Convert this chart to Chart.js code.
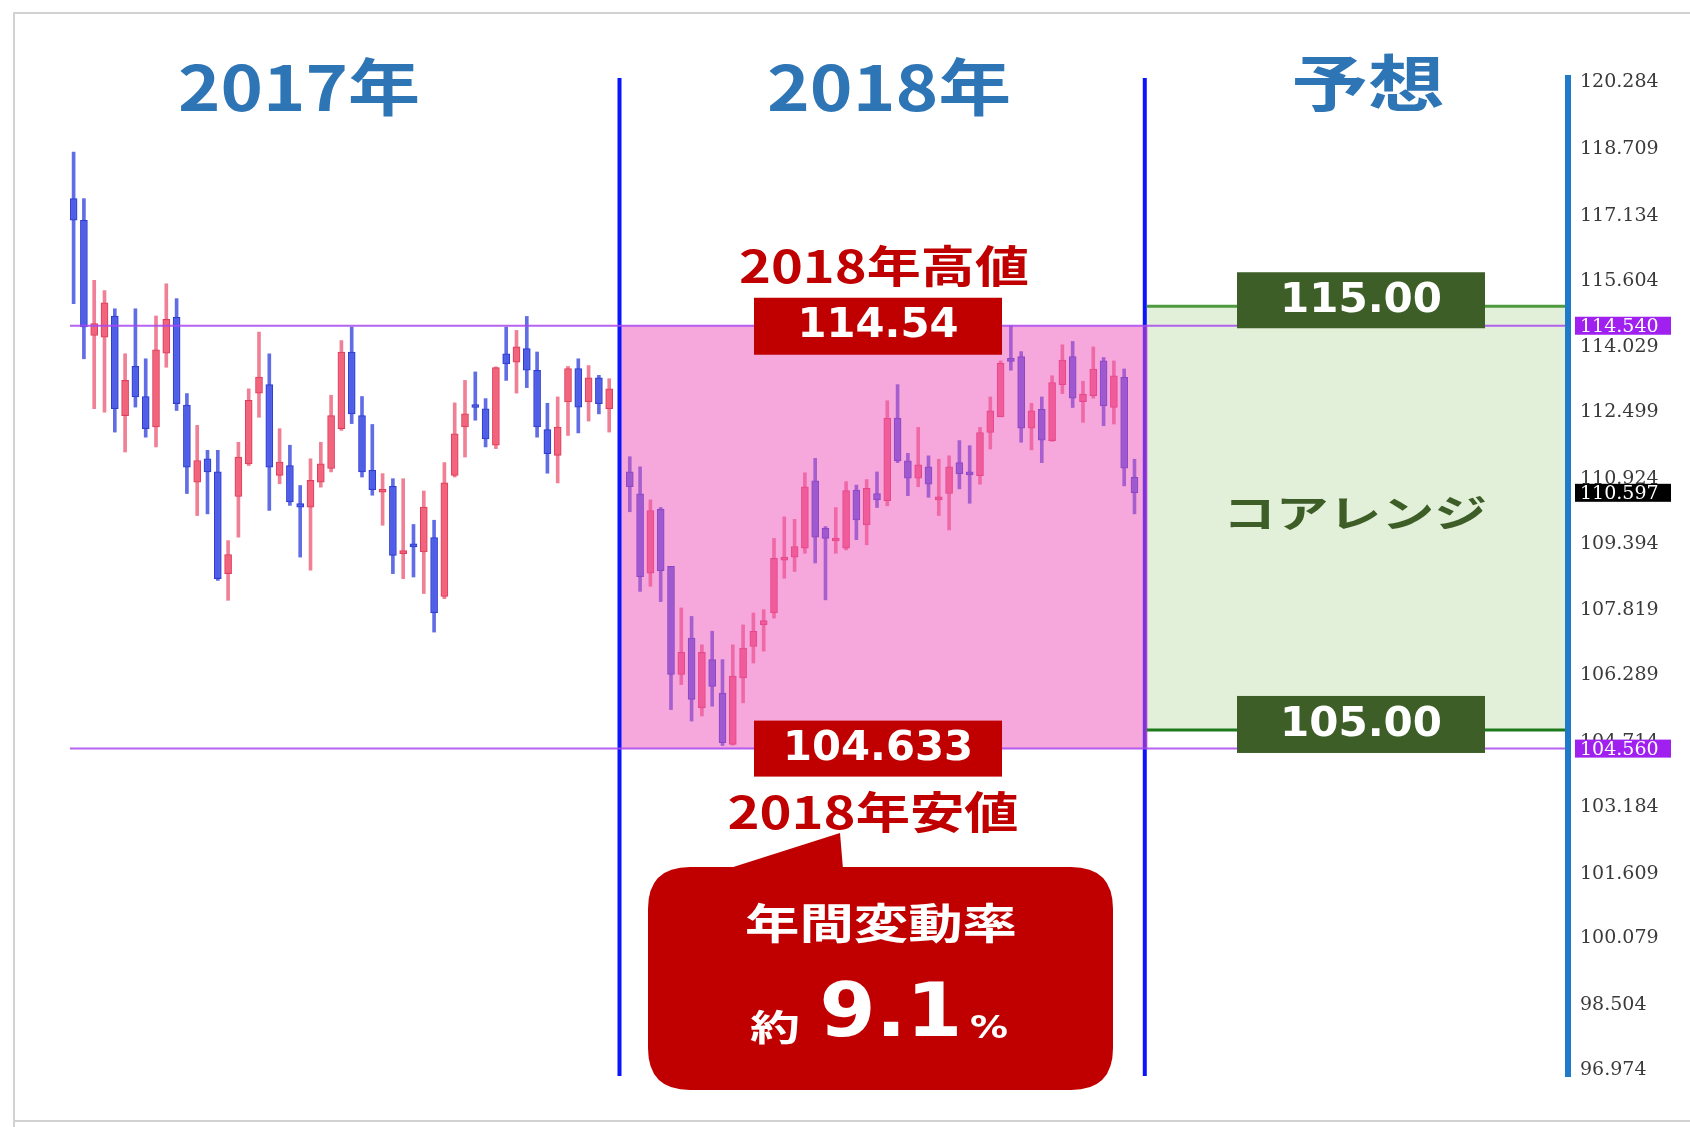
<!DOCTYPE html>
<html>
<head>
<meta charset="utf-8">
<script src="https://cdn.jsdelivr.net/npm/chart.js@4.4.0/dist/chart.umd.min.js"></script>
<style>
  html, body { margin: 0; padding: 0; background: #fff; }
  canvas { display: block; }
</style>
</head>
<body>
<canvas id="chart" width="1690" height="1127"></canvas>
<script>
// weekly candles, 2017
const open2017  = [117.54,117.03,114.31,114.27,114.77,112.42,113.58,112.87,112.15,113.89,114.74,112.67,110.85,111.40,111.09,108.69,110.51,111.28,112.95,113.15,111.01,111.24,110.34,110.26,110.85,111.17,112.11,113.92,112.42,111.13,110.61,110.75,109.16,109.36,109.20,109.54,108.15,111.01,112.15,112.64,112.58,111.72,113.88,113.68,114.00,113.49,112.09,111.48,112.74,113.53,112.74,113.31,112.58];
const high2017  = [118.64,117.54,115.61,115.37,114.94,113.88,114.94,113.76,114.77,115.53,115.18,112.94,112.19,111.60,111.60,109.47,111.79,113.05,114.39,113.88,112.11,111.72,110.77,111.40,111.79,112.90,114.19,114.51,112.87,112.21,111.05,110.93,110.93,109.85,110.64,109.95,111.31,112.72,113.25,113.45,112.82,113.57,114.51,114.43,114.76,113.92,112.71,112.86,113.58,113.76,113.60,113.37,113.29];
const low2017   = [115.06,113.76,112.58,112.50,112.03,111.56,112.62,111.91,111.68,113.56,112.54,110.58,110.06,110.10,108.53,108.06,109.55,111.24,112.38,110.18,110.81,110.30,109.08,108.77,110.73,111.09,112.07,112.23,110.97,110.54,109.83,108.69,108.57,108.61,108.22,107.31,108.10,110.97,111.44,112.31,111.68,111.64,113.25,112.95,113.08,111.91,111.06,110.83,111.95,112.01,112.29,112.46,112.03];
const close2017 = [117.03,114.51,114.59,115.08,112.58,113.25,112.86,112.11,113.97,114.69,112.70,111.20,111.36,111.09,108.57,109.14,111.44,112.78,113.33,111.20,111.32,110.38,110.26,110.89,111.28,112.42,113.92,112.46,111.09,110.67,110.67,109.12,109.20,109.32,110.26,107.76,110.83,111.99,112.46,112.61,111.87,113.55,113.64,114.04,113.49,112.15,111.52,112.15,113.53,112.62,113.31,112.70,113.05];

// weekly candles, 2018
const open2018  = [111.09,110.57,108.70,110.21,108.86,106.31,107.17,105.52,106.66,105.87,104.66,106.23,106.97,107.48,107.76,109.01,109.08,109.29,110.88,109.76,109.46,109.29,110.66,109.84,110.58,110.41,112.36,111.35,110.94,111.21,110.43,110.58,111.31,111.05,111.00,112.02,112.39,113.71,113.81,112.12,112.57,111.83,113.15,113.81,112.75,112.89,113.71,112.61,113.32,110.96];
const high2018  = [111.45,111.21,110.43,110.25,108.86,107.88,107.68,107.01,107.33,106.66,107.01,107.48,107.76,107.84,109.52,110.03,109.97,111.07,111.41,109.80,110.25,110.86,110.78,110.91,111.09,112.77,113.15,111.53,112.14,111.47,111.39,111.47,111.83,111.71,112.14,112.86,113.71,114.54,113.93,112.71,112.86,113.36,114.09,114.17,113.23,114.04,113.79,113.71,113.52,111.39];
const low2018   = [110.15,108.27,108.39,108.03,105.48,106.07,105.21,105.33,105.56,104.633,104.64,105.64,106.58,106.86,107.64,108.58,108.74,109.17,108.94,108.07,109.17,109.25,109.49,109.37,110.25,110.29,111.31,110.53,110.74,110.49,110.06,109.72,110.69,110.35,110.80,111.63,112.39,113.49,111.79,111.61,111.31,111.81,112.94,112.61,112.26,112.83,112.18,112.22,110.76,110.10];
const close2018 = [110.74,108.62,110.18,108.76,106.31,106.83,105.72,106.83,106.03,104.70,106.27,106.93,107.33,107.58,109.05,109.05,109.33,110.74,109.55,109.52,109.49,110.65,109.96,110.70,110.43,112.36,111.35,110.94,111.26,110.80,110.49,111.21,111.05,111.02,112.02,112.53,113.65,113.70,112.12,112.53,111.84,113.20,113.73,112.83,112.93,113.52,112.65,113.36,111.18,110.597];

// price axis tick labels
const yTicks = [120.284,118.709,117.134,115.604,114.029,112.499,110.924,109.394,107.819,106.289,104.714,103.184,101.609,100.079,98.504,96.974];

// reference levels
const high2018Value = 114.54;
const low2018Value = 104.633;
const highLine = 114.540;
const lowLine = 104.560;
const lastPrice = 110.597;
const coreHigh = 115.00;
const coreLow = 105.00;
const yearlyChange = 9.1;

// slot layout on the x axis
const start2018 = 54;
const split2018 = 53;
const splitForecast = 104;

const candles = [];
open2017.forEach((o, i) => candles.push({ x: i, o, h: high2017[i], l: low2017[i], c: close2017[i] }));
open2018.forEach((o, i) => candles.push({ x: start2018 + i, o, h: high2018[i], l: low2018[i], c: close2018[i] }));
const isUp = c => c.c >= c.o;

const tickFont = { family: '"DejaVu Serif", serif', size: 19 };

function fitText(ctx, text, cx, cy, font, color, width) {
  ctx.save();
  ctx.font = font;
  ctx.fillStyle = color;
  ctx.textAlign = 'center';
  ctx.textBaseline = 'middle';
  const w = ctx.measureText(text).width;
  ctx.translate(cx, cy);
  ctx.scale(width / w, 1);
  ctx.fillText(text, 0, 0);
  ctx.restore();
}

function hLine(ctx, yPix, x0, x1, color, width) {
  ctx.save();
  ctx.strokeStyle = color;
  ctx.lineWidth = width;
  ctx.beginPath();
  ctx.moveTo(x0, yPix);
  ctx.lineTo(x1, yPix);
  ctx.stroke();
  ctx.restore();
}

function vLine(ctx, xPix, y0, y1, color, width) {
  ctx.save();
  ctx.strokeStyle = color;
  ctx.lineWidth = width;
  ctx.beginPath();
  ctx.moveTo(xPix, y0);
  ctx.lineTo(xPix, y1);
  ctx.stroke();
  ctx.restore();
}

function roundRect(ctx, x, y, w, h, r) {
  ctx.beginPath();
  ctx.moveTo(x + r, y);
  ctx.lineTo(x + w - r, y);
  ctx.quadraticCurveTo(x + w, y, x + w, y + r);
  ctx.lineTo(x + w, y + h - r);
  ctx.quadraticCurveTo(x + w, y + h, x + w - r, y + h);
  ctx.lineTo(x + r, y + h);
  ctx.quadraticCurveTo(x, y + h, x, y + h - r);
  ctx.lineTo(x, y + r);
  ctx.quadraticCurveTo(x, y, x + r, y);
  ctx.closePath();
}

const cjk = '"Noto Sans CJK JP", sans-serif';
const num = '"DejaVu Sans", sans-serif';

const decorations = {
  id: 'decorations',
  beforeDraw(chart) {
    const ctx = chart.ctx;
    ctx.save();
    ctx.fillStyle = '#fff';
    ctx.fillRect(0, 0, chart.width, chart.height);
    ctx.strokeStyle = '#d2d2d2';
    ctx.lineWidth = 2;
    ctx.beginPath();
    ctx.moveTo(14, chart.height);
    ctx.lineTo(14, 13);
    ctx.lineTo(chart.width, 13);
    ctx.moveTo(14, 1121);
    ctx.lineTo(chart.width, 1121);
    ctx.stroke();
    ctx.restore();
  },
  beforeDatasetsDraw(chart) {
    const { ctx, chartArea: a, scales: { x, y } } = chart;
    const xR = x.getPixelForValue(splitForecast);
    // core range box
    ctx.save();
    ctx.fillStyle = '#e2efd9';
    const gTop = y.getPixelForValue(coreHigh), gBot = y.getPixelForValue(coreLow);
    ctx.fillRect(xR, gTop, a.right - 3 - xR, gBot - gTop);
    ctx.restore();
    vLine(ctx, xR, a.top, a.bottom, '#0a14ff', 4);
  },
  afterDatasetsDraw(chart) {
    const { ctx, chartArea: a, scales: { x, y } } = chart;
    const xL = x.getPixelForValue(split2018);
    const xR = x.getPixelForValue(splitForecast);
    const yHi = y.getPixelForValue(highLine);
    const yLo = y.getPixelForValue(lowLine);

    // 2018 range overlay
    ctx.save();
    ctx.fillStyle = 'rgba(237,81,185,0.5)';
    ctx.fillRect(xL, yHi, xR + 3 - xL, yLo - yHi);
    ctx.restore();
    vLine(ctx, xL, a.top, a.bottom, '#0a14ff', 4);

    hLine(ctx, yHi, a.left, a.right - 3, 'rgba(168,72,240,0.85)', 2);
    hLine(ctx, yLo, a.left, a.right - 3, 'rgba(168,72,240,0.85)', 2);
    hLine(ctx, y.getPixelForValue(coreHigh), xR + 2, a.right - 3, '#4f9a3e', 3);
    hLine(ctx, y.getPixelForValue(coreLow), xR + 2, a.right - 3, '#1d7a1d', 3);

    // column titles
    fitText(ctx, '2017年', 299, 87, `bold 62px ${cjk}`, '#2e75b6', 242);
    fitText(ctx, '2018年', 889, 87, `bold 62px ${cjk}`, '#2e75b6', 244);
    fitText(ctx, '予想', 1368, 83, `bold 62px ${cjk}`, '#2e75b6', 153);

    // 2018 high / low labels
    const red = '#c00000';
    fitText(ctx, '2018年高値', 884, yHi - 59, `bold 44px ${cjk}`, red, 290);
    ctx.fillStyle = red;
    ctx.fillRect(754, yHi - 28, 248, 57);
    fitText(ctx, high2018Value.toFixed(2), 878, yHi + 1, `bold 40px ${num}`, '#fff', 161);
    ctx.fillStyle = red;
    ctx.fillRect(754, yLo - 28, 248, 56);
    fitText(ctx, low2018Value.toFixed(3), 878, yLo + 1, `bold 40px ${num}`, '#fff', 190);
    fitText(ctx, '2018年安値', 873, yLo + 64, `bold 44px ${cjk}`, red, 291);

    // callout
    ctx.save();
    ctx.fillStyle = red;
    roundRect(ctx, 648, 867, 465, 223, 42);
    ctx.fill();
    ctx.beginPath();
    ctx.moveTo(727, 869);
    ctx.lineTo(840, 833);
    ctx.lineTo(843, 869);
    ctx.closePath();
    ctx.fill();
    ctx.restore();
    fitText(ctx, '年間変動率', 881, 923, `bold 42px ${cjk}`, '#fff', 272);
    fitText(ctx, '約', 775, 1027, `bold 36px ${cjk}`, '#fff', 50);
    fitText(ctx, yearlyChange.toFixed(1), 891, 1017, `bold 74px ${num}`, '#fff', 143);
    fitText(ctx, '%', 989, 1030, `bold 32px ${num}`, '#fff', 38);

    // core range labels
    const green = '#3d5e27';
    const g1 = y.getPixelForValue(coreHigh) - 6;
    const g2 = y.getPixelForValue(coreLow) - 6;
    ctx.fillStyle = green;
    ctx.fillRect(1237, g1 - 28, 248, 56);
    ctx.fillRect(1237, g2 - 28, 248, 57);
    fitText(ctx, coreHigh.toFixed(2), 1361, g1 + 1, `bold 41px ${num}`, '#fff', 162);
    fitText(ctx, coreLow.toFixed(2), 1361, g2 + 1, `bold 41px ${num}`, '#fff', 162);
    fitText(ctx, 'コアレンジ', 1355, 513, `bold 38px ${cjk}`, green, 264);
  },
  afterDraw(chart) {
    const { ctx, chartArea: a, scales: { y } } = chart;
    const tags = [[highLine, '#a020f0'], [lastPrice, '#000000'], [lowLine, '#a020f0']];
    ctx.save();
    ctx.font = `${tickFont.size}px ${tickFont.family}`;
    ctx.textBaseline = 'middle';
    ctx.textAlign = 'left';
    tags.forEach(([v, bg]) => {
      const yp = y.getPixelForValue(v);
      ctx.fillStyle = bg;
      ctx.fillRect(a.right + 7, yp - 9, 96, 18);
      ctx.fillStyle = '#fff';
      ctx.fillText(v.toFixed(3), a.right + 12, yp + 1);
    });
    ctx.restore();
  }
};

new Chart(document.getElementById('chart'), {
  type: 'bar',
  data: {
    datasets: [
      {
        label: 'wick',
        data: candles.map(c => ({ x: c.x, y: [c.l, c.h] })),
        backgroundColor: candles.map(c => isUp(c) ? 'rgba(236,96,122,0.8)' : 'rgba(58,72,222,0.8)'),
        barThickness: 3,
        grouped: false,
        order: 2
      },
      {
        label: 'body',
        data: candles.map(c => ({ x: c.x, y: [c.o, c.c] })),
        backgroundColor: candles.map(c => isUp(c) ? 'rgba(242,96,120,0.9)' : 'rgba(78,92,230,0.9)'),
        borderColor: candles.map(c => isUp(c) ? '#df3d5e' : '#2e3ccf'),
        borderWidth: 1,
        borderSkipped: false,
        barThickness: 7,
        minBarLength: 3,
        grouped: false,
        order: 1
      }
    ]
  },
  options: {
    responsive: false,
    animation: false,
    devicePixelRatio: 1,
    layout: { padding: { left: 70, top: 78, right: 0, bottom: 51 } },
    plugins: { legend: { display: false }, tooltip: { enabled: false } },
    scales: {
      x: { type: 'linear', min: -0.35, max: 145.09, offset: false, display: false },
      y: {
        position: 'right',
        min: 96.833,
        max: 120.387,
        afterBuildTicks: scale => { scale.ticks = yTicks.map(v => ({ value: v })); },
        afterFit: scale => { scale.width = 122; },
        grid: { display: false, drawTicks: false },
        border: { display: true, color: '#1f7bc8', width: 6 },
        ticks: {
          autoSkip: false,
          padding: 12,
          color: '#3a3a3a',
          font: tickFont,
          callback: v => Number(v).toFixed(3)
        }
      }
    }
  },
  plugins: [decorations]
});
</script>
</body>
</html>
